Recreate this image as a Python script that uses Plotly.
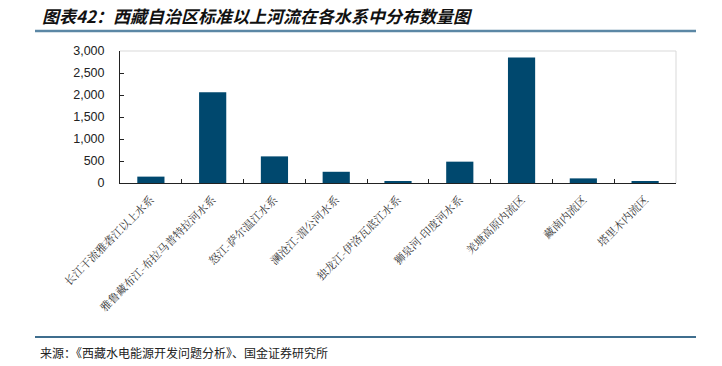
import plotly.graph_objects as go

categories = [
    "长江干流雅砻江以上水系",
    "雅鲁藏布江-布拉马普特拉河水系",
    "怒江-萨尔温江水系",
    "澜沧江-湄公河水系",
    "独龙江-伊洛瓦底江水系",
    "狮泉河-印度河水系",
    "羌塘高原内流区",
    "藏南内流区",
    "塔里木内流区",
]
values = [145, 2060, 605, 255, 28, 485, 2855, 105, 25]
y_ticks = [0, 500, 1000, 1500, 2000, 2500, 3000]
y_tick_labels = ["0", "500", "1,000", "1,500", "2,000", "2,500", "3,000"]

title_text = "图表42：西藏自治区标准以上河流在各水系中分布数量图"
source_text = "来源：《西藏水电能源开发问题分析》、国金证券研究所"

FW, FH = 722, 366
L, R, T, B = 120, 676, 51, 183
W, H = R - L, B - T


def px(x):
    return (x - L) / W


def py(y):
    return (B - y) / H


fig = go.Figure()
fig.add_trace(go.Bar(x=categories, y=values, marker=dict(color="#00486E", line=dict(width=0))))

fig.update_layout(
    width=FW, height=FH,
    margin=dict(l=L, r=FW - R, t=T, b=FH - B, autoexpand=False),
    paper_bgcolor="white", plot_bgcolor="white",
    bargap=0.56,
    showlegend=False,
    font=dict(family="Noto Sans CJK SC", color="#222"),
    xaxis=dict(
        type="category",
        automargin=False,
        tickangle=-45,
        tickson="boundaries",
        ticks="inside", ticklen=4, tickcolor="#222", tickwidth=1,
        ticklabelstandoff=5,
        showline=True, linecolor="#222", linewidth=1,
        tickfont=dict(family="Noto Serif CJK SC, Noto Sans CJK SC", size=11, color="#333"),
        showgrid=False,
    ),
    yaxis=dict(
        automargin=False,
        range=[0, 3000],
        tickvals=y_ticks, ticktext=y_tick_labels,
        ticks="inside", ticklen=4, tickcolor="#222",
        ticklabelstandoff=12,
        showline=True, linecolor="#222", linewidth=1,
        showgrid=False, zeroline=False,
        tickfont=dict(family="Arial, Liberation Sans", size=12.5, color="#222"),
    ),
    shapes=[
        dict(type="line", xref="paper", yref="paper", x0=0, x1=1, y0=1, y1=1, line=dict(color="#d9d9d9", width=1)),
        dict(type="line", xref="paper", yref="paper", x0=1, x1=1, y0=0, y1=1, line=dict(color="#d9d9d9", width=1)),
        dict(type="line", xref="paper", yref="paper", x0=px(35), x1=px(696), y0=py(31), y1=py(31),
             line=dict(color="#5B87A5", width=2.5)),
        dict(type="line", xref="paper", yref="paper", x0=px(35), x1=px(696), y0=py(337), y1=py(337),
             line=dict(color="#3F6E8E", width=2)),
    ],
    annotations=[
        dict(text="<b><i>" + title_text + "</i></b>", xref="paper", yref="paper",
             x=px(40), y=py(15), xanchor="left", yanchor="middle", showarrow=False,
             font=dict(family="Noto Sans CJK SC", size=17, color="#111")),
        dict(text=source_text, xref="paper", yref="paper",
             x=px(38), y=py(352), xanchor="left", yanchor="middle", showarrow=False,
             font=dict(family="Noto Sans CJK SC", size=12, color="#222")),
    ],
)

fig.write_html(
    "out.html",
    config={"displayModeBar": False},
    post_script="document.body.style.margin='0';document.body.style.overflow='hidden';",
)
